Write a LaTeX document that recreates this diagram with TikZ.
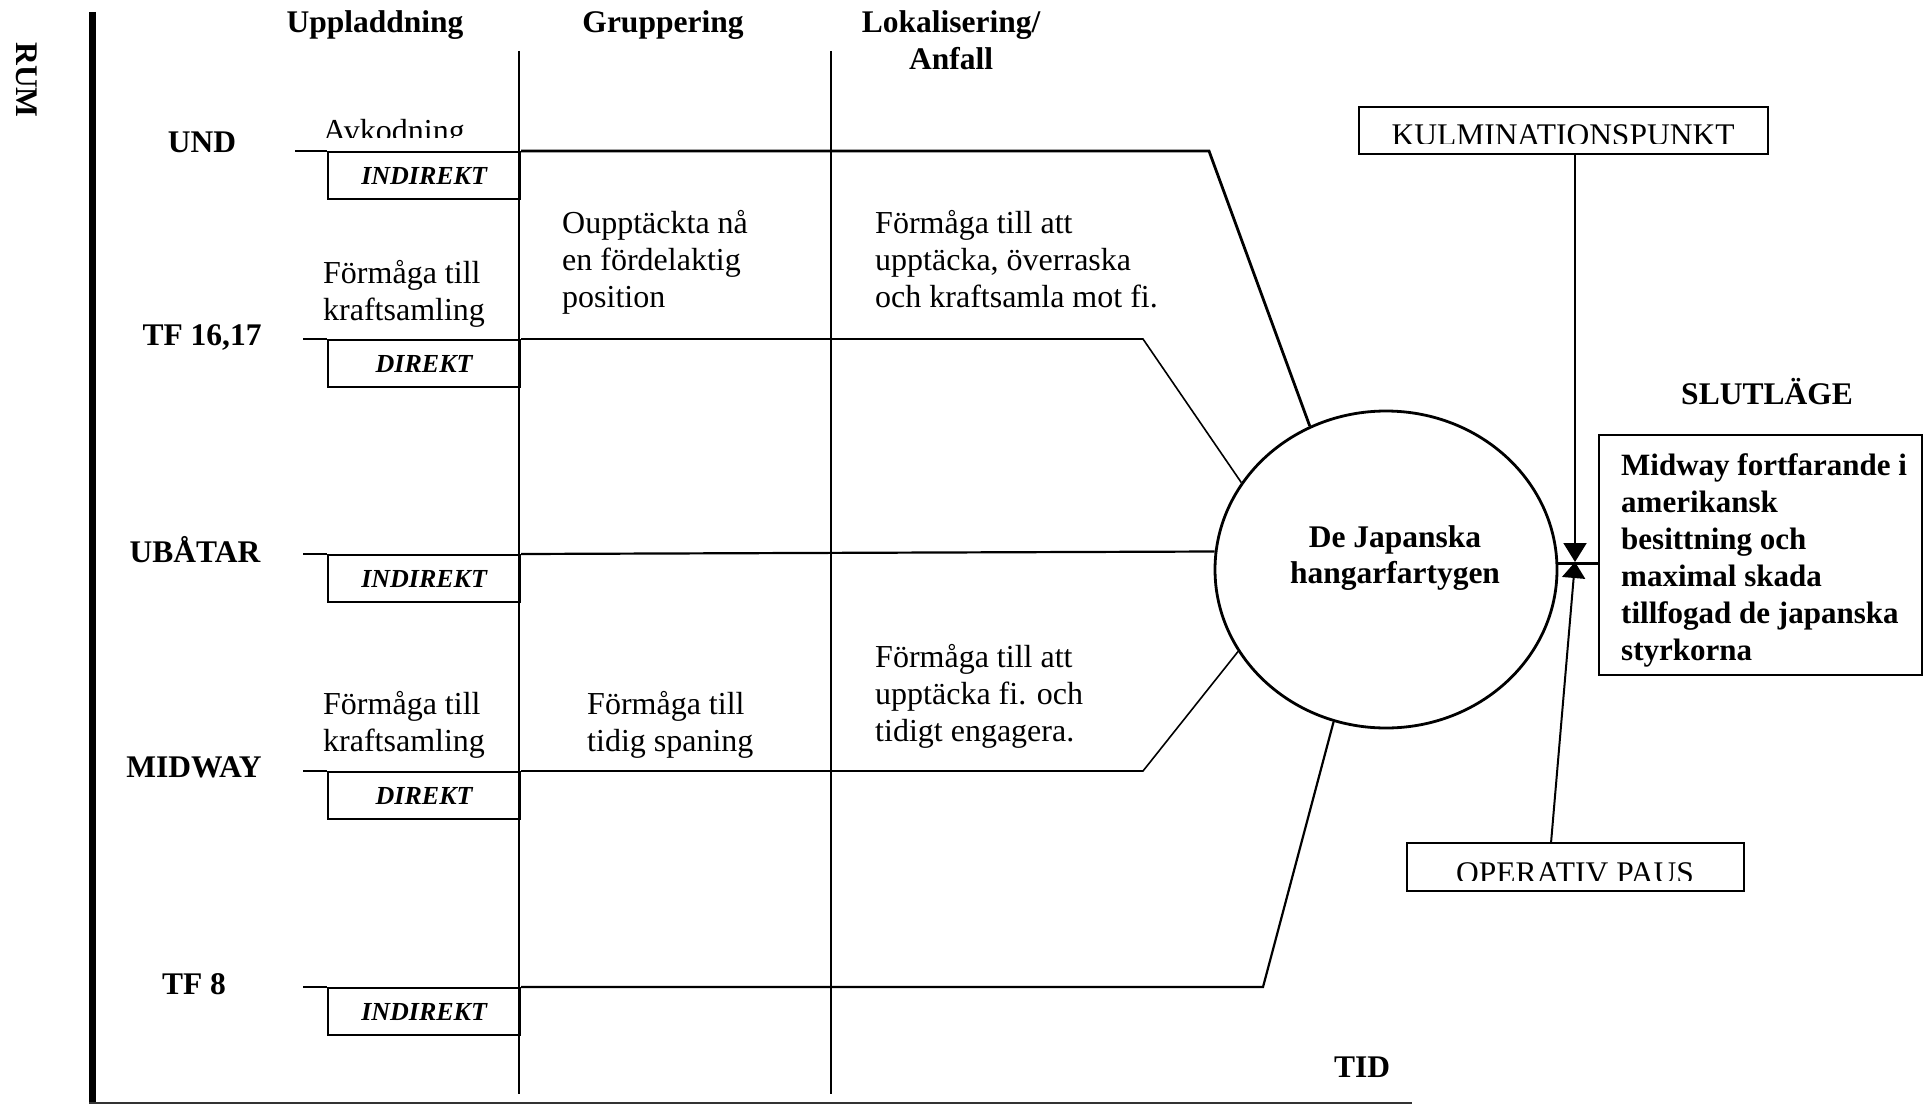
\documentclass[tikz,border=0pt]{standalone}
\usepackage{fontspec}
\setmainfont{Liberation Serif}
\usetikzlibrary{shapes.geometric,arrows.meta}
\begin{document}
\begin{tikzpicture}[x=1pt,y=-1pt,
  ln/.style={line width=2.2pt},
  lnthin/.style={line width=1.6pt},
  lnthick/.style={line width=2.8pt},
  hdr/.style={font=\bfseries\fontsize{31.5}{37}\selectfont, inner sep=0pt, anchor=base, align=center},
  body/.style={font=\fontsize{32}{37}\selectfont, inner sep=0pt, align=left, anchor=base west},
  tag/.style={draw, line width=2.2pt, minimum width=192pt, minimum height=47pt, inner sep=0pt, anchor=north west, font=\bfseries\itshape\fontsize{26}{30}\selectfont},
  capbox/.style={draw, line width=2pt, inner sep=0pt},
  captext/.style={font=\fontsize{31.5}{34}\selectfont, inner sep=0pt, anchor=base},
]
\useasboundingbox[fill=white] (0,0) rectangle (1926,1105);

% axes
\coordinate (axtop) at (92.5,12);
\coordinate (axbot) at (92.5,1103);
\coordinate (axleft) at (89,1103);
\coordinate (axend) at (1412,1103);
\draw[line width=7pt] (axtop) -- (axbot);
\draw[line width=1.5pt, black!80] (axleft) -- (axend);
\node[hdr, rotate=-90, anchor=center] (rum) at (27,80) {RUM};
\node[hdr] (tid) at (1362,1077) {TID};

% column lines and headers (base = last line)
\coordinate (c1t) at (519,51); \coordinate (c1b) at (519,1094);
\coordinate (c2t) at (831,51); \coordinate (c2b) at (831,1094);
\draw[ln] (c1t) -- (c1b);
\draw[ln] (c2t) -- (c2b);
\node[hdr] (h1) at (375,33) {Uppladdning};
\node[hdr] (h2) at (663,33) {Gruppering};
\node[hdr] (h3) at (951,70) {Lokalisering/\\Anfall};

% central ellipse
\node[draw, ellipse, line width=2.8pt, minimum width=342pt, minimum height=317pt, inner sep=0pt] (circ) at (1386,569.5) {};
\node[hdr, font=\bfseries\fontsize{31.5}{36}\selectfont] (ctext) at (1395,583) {De Japanska\\hangarfartygen};

% row labels
\node[hdr] (lund) at (202,153) {UND};
\node[hdr] (ltf) at (202,345) {TF 16,17};
\node[hdr] (lub) at (195,562) {UBÅTAR};
\node[hdr] (lmid) at (194,777) {MIDWAY};
\node[hdr] (ltf8) at (194,994) {TF 8};

% UND row
\node[tag] (bund) at (327,151) {INDIREKT};
\coordinate (sund) at (295,151);
\coordinate (kund) at (1209,151);
\draw[ln] (sund) -- (bund.north west);
\draw[lnthick] (bund.north east) -- (kund) -- (circ.118.4);
\begin{scope}
  \clip (300,100) rectangle (500,137);
  \node[body] (avk) at (323,141) {Avkodning};
\end{scope}

% TF 16,17 row
\node[tag] (btf) at (327,339) {DIREKT};
\coordinate (stf) at (303,339);
\coordinate (ktf) at (1143,339);
\draw[ln] (stf) -- (btf.north west);
\draw[lnthin] (btf.north east) -- (ktf) -- (circ.149.1);
\node[body] (ttf1) at (323,320) {Förmåga till\\kraftsamling};
\node[body] (ttf2) at (562,307) {Oupptäckta nå\\en fördelaktig\\position};
\node[body] (ttf3) at (875,307) {Förmåga till att\\upptäcka, överraska\\och kraftsamla mot fi.};

% UBÅTAR row
\node[tag] (bub) at (327,554) {INDIREKT};
\coordinate (sub) at (303,554);
\draw[ln] (sub) -- (bub.north west);
\draw[ln] (bub.north east) -- (circ.174.8);

% MIDWAY row
\node[tag] (bmid) at (327,771) {DIREKT};
\coordinate (smid) at (303,771);
\coordinate (kmid) at (1143,771);
\draw[lnthin] (smid) -- (bmid.north west);
\draw[lnthin] (bmid.north east) -- (kmid) -- (circ.209.1);
\node[body] (tmid1) at (323,751) {Förmåga till\\kraftsamling};
\node[body] (tmid2) at (587,751) {Förmåga till\\tidig spaning};
\node[body] (tmid3) at (875,741) {Förmåga till att\\upptäcka fi. och\\tidigt engagera.};

% TF 8 row
\node[tag] (btf8) at (327,987) {INDIREKT};
\coordinate (stf8) at (303,987);
\coordinate (ktf8) at (1263,987);
\draw[ln] (stf8) -- (btf8.north west);
\draw[ln] (btf8.north east) -- (ktf8) -- (circ.251.6);

% right part
\node[hdr] (slutlbl) at (1767,404) {SLUTLÄGE};
\node[draw, line width=2.2pt, minimum width=323pt, minimum height=240pt, inner sep=0pt] (slut) at (1760.5,555) {};
\node[font=\bfseries\fontsize{31}{37}\selectfont, inner sep=0pt, align=left, anchor=base west] (sluttext) at (1621,660)
  {Midway fortfarande i\\amerikansk\\besittning och\\maximal skada\\tillfogad de japanska\\styrkorna};

\node[capbox, minimum width=409pt, minimum height=47pt] (kulm) at (1563.5,130.5) {};
\begin{scope}
  \clip (1360,108) rectangle (1767,143);
  \node[captext] (kulmtext) at (1563,146) {KULMINATIONSPUNKT};
\end{scope}

\node[capbox, minimum width=337pt, minimum height=48pt] (op) at (1575.5,867) {};
\begin{scope}
  \clip (1408,844) rectangle (1743,880);
  \node[captext] (optext) at (1575,883) {OPERATIV PAUS};
\end{scope}

\coordinate (bt) at (1575,562);
\coordinate (opt) at (1551,843);
\draw[line width=2pt, -{Triangle[width=23pt,length=19pt]}] (kulm.south -| bt) -- (bt);
\draw[line width=2pt, -{Triangle[width=23pt,length=16pt]}] (opt) -- (bt);
\draw[ln] (circ.2.5) -- (circ.2.5 -| slut.west);
\end{tikzpicture}
\end{document}
